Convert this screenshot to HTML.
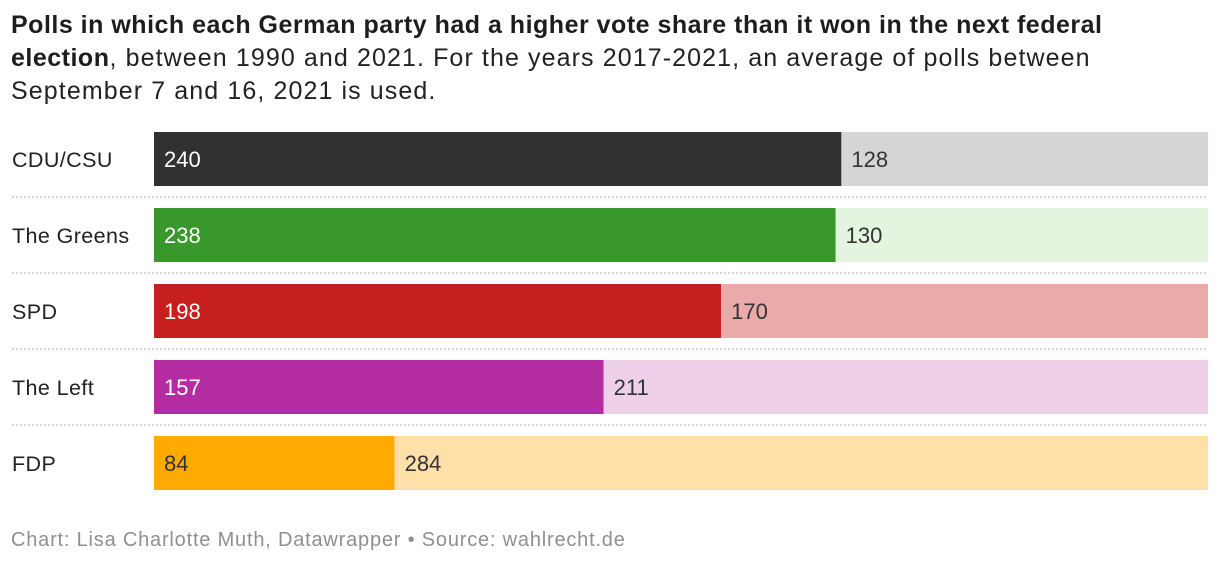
<!DOCTYPE html>
<html><head><meta charset="utf-8"><style>
body{margin:0;background:#fff;width:1220px;height:566px;overflow:hidden;font-family:"Liberation Sans",sans-serif;}
#title{position:absolute;left:11px;top:9px;width:1200px;font-size:25px;line-height:33px;color:#222;white-space:nowrap;letter-spacing:1.1px}
#title b{color:#1d1d1d;letter-spacing:0.5px}
#footer{position:absolute;left:11px;top:529px;font-size:20px;letter-spacing:0.8px;color:#8f8f8f;}
svg{position:absolute;left:0;top:0}
</style></head><body>
<div id="title"><b>Polls in which each German party had a higher vote share than it won in the next federal<br>election</b>, between 1990 and 2021. For the years 2017-2021, an average of polls between<br>September 7 and 16, 2021 is used.</div>
<svg id="chart" width="1220" height="566"></svg>
<div id="footer">Chart: Lisa Charlotte Muth, Datawrapper • Source: wahlrecht.de</div>
<script>
const parties = ["CDU/CSU","The Greens","SPD","The Left","FDP"];
const higher = [240,238,198,157,84];
const notHigher = [128,130,170,211,284];
const darkColors = ["#333031","#38982c","#c71e1e","#b32ca2","#ffaa00"];
const lightColors = ["#d6d4d4","#e3f5de","#eaaaa9","#efd0e9","#ffe0a8"];
const ns="http://www.w3.org/2000/svg";
const svg=document.getElementById('chart');
const x0=154,x1=1208,top0=132,step=76,bh=54;
function mk(t,a){const e=document.createElementNS(ns,t);for(const k in a)e.setAttribute(k,a[k]);svg.appendChild(e);return e;}
parties.forEach((p,i)=>{
  const total=higher[i]+notHigher[i];
  const sx=v=>x0+(x1-x0)*v/total;
  const y=top0+i*step;
  const lab=mk('text',{x:12,y:y+bh/2+8,'font-size':21.5,'letter-spacing':0.4,fill:'#222'});lab.textContent=p;
  
  
  const r1=mk('rect',{x:x0,y:y,width:sx(higher[i])-x0,height:bh,fill:darkColors[i]});
  
  
  const r2=mk('rect',{x:sx(higher[i]),y:y,width:x1-sx(higher[i]),height:bh,fill:lightColors[i]});
  
  
  const t1=mk('text',{x:x0+10,y:y+bh/2+8,'font-size':22,fill:i==4?'#333':'#fff'});t1.textContent=higher[i];
  
  
  const t2=mk('text',{x:sx(higher[i])+10,y:y+bh/2+8,'font-size':22,fill:'#333'});t2.textContent=notHigher[i];
  
  
  if(i<parties.length-1){
    const l=mk('line',{x1:12,x2:x1,y1:y+bh+11,y2:y+bh+11,stroke:'#ccc','stroke-width':1.5,'stroke-dasharray':'2,2'});
    
    
  }
});
</script>
</body></html>
